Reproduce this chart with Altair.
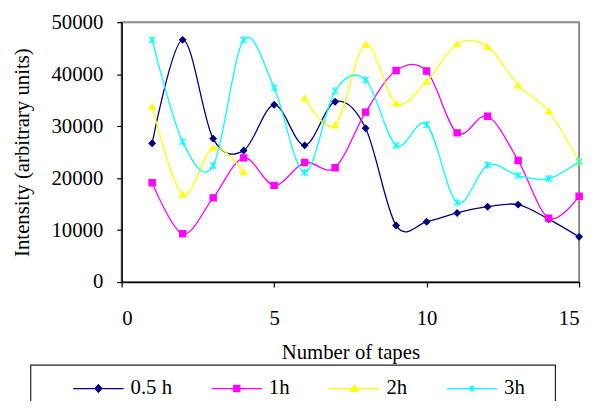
import altair as alt
import pandas as pd

# ---- data ----
series = ["0.5 h", "1h", "2h", "3h"]
tapes = list(range(1, 16))
v_05h = [26700, 46600, 27600, 25300, 34100, 26300, 34700, 29600, 10900, 11600, 13300, 14500, 14900, 12100, 8700]
v_1h = [19100, 9300, 16200, 23900, 18600, 23000, 22000, 32700, 40700, 40600, 28700, 31900, 23400, 12300, 16500]
v_2h = [33800, 16900, 25900, 21200, None, 35400, 30200, 45700, 34400, 38600, 45800, 45300, 37900, 32900, 23200]
v_3h = [46600, 27000, 22400, 46600, 37400, 21100, 36800, 38900, 26300, 30300, 15300, 22500, 20500, 19900, 23200]
x_ticks = [0, 5, 10, 15]
y_ticks = [0, 10000, 20000, 30000, 40000, 50000]

colors = ["#000080", "#FF00FF", "#FFFF00", "#00FFFF"]
marker_shapes = ["diamond", "square", "triangle-up",
                 "M-1,-1L1,1M-1,1L1,-1M0,-1.2L0,1.2"]
legend_shapes = [
    "M-1,0H1M0,-0.15L0.13,0L0,0.15L-0.13,0Z",
    "M-1,0H1M-0.12,-0.12H0.12V0.12H-0.12Z",
    "M-1,0H1M0,-0.14L0.14,0.11H-0.14Z",
    "M-1,0H1M-0.09,-0.09L0.09,0.09M-0.09,0.09L0.09,-0.09M0,-0.11V0.11",
]

rows = []
for name, vals in zip(series, [v_05h, v_1h, v_2h, v_3h]):
    seg = 0
    for t, v in zip(tapes, vals):
        if v is None:
            seg += 1
            continue
        rows.append({"tapes": t, "intensity": v, "series": name, "seg": f"{name}_{seg}"})
df = pd.DataFrame(rows)

FONT = "Liberation Serif"
FS = 21

x_enc = alt.X("tapes:Q", scale=alt.Scale(domain=[0, 15], nice=False),
              axis=alt.Axis(values=x_ticks, title="Number of tapes", labelPadding=21,
                            titlePadding=13, labelFont=FONT, titleFont=FONT))
y_enc = alt.Y("intensity:Q", scale=alt.Scale(domain=[0, 50000], nice=False),
              axis=alt.Axis(values=y_ticks, format="d", title="Intensity (arbitrary units)",
                            labelPadding=14, titlePadding=19, labelFont=FONT, titleFont=FONT))

col_scale = alt.Scale(domain=series, range=colors)

base = alt.Chart(df)

lines = base.mark_line(interpolate="cardinal", strokeWidth=1.3).encode(
    x=x_enc, y=y_enc,
    color=alt.Color("series:N", scale=col_scale, legend=None),
    detail="seg:N",
)

points = base.mark_point(filled=True, size=40, strokeWidth=1.2, opacity=1).encode(
    x=x_enc, y=y_enc,
    fill=alt.Fill("series:N", scale=col_scale, legend=None),
    stroke=alt.Stroke("series:N", scale=col_scale, legend=None),
    shape=alt.Shape("series:N", scale=alt.Scale(domain=series, range=marker_shapes), legend=None),
)

leg_col = alt.Scale(domain=series, range=colors)
legend_layer = base.transform_filter("false").transform_calculate(
    leg="datum.series"
).mark_point(strokeWidth=1.3, opacity=1).encode(
    shape=alt.Shape("leg:N", scale=alt.Scale(domain=series, range=legend_shapes),
                    legend=alt.Legend(orient="none", legendX=-50, legendY=344,
                                      direction="horizontal", title=None,
                                      symbolSize=2601, symbolStrokeWidth=1.3,
                                      labelFont=FONT, labelFontSize=FS, labelColor="black",
                                      labelOffset=6, columnPadding=37, padding=0)),
    fill=alt.Fill("leg:N", scale=leg_col),
    stroke=alt.Stroke("leg:N", scale=leg_col),
)

frame = alt.Chart(pd.DataFrame({"a": [0]})).mark_rect(
    fill="transparent", stroke="#222222", strokeWidth=1.2
).encode(x=alt.value(-92), x2=alt.value(439), y=alt.value(347), y2=alt.value(420))

chart = alt.layer(lines, points, legend_layer, frame).resolve_scale(
    fill="independent", stroke="independent", shape="independent"
).properties(
    width=463, height=263,
    autosize=alt.AutoSizeParams(type="none"),
    padding={"left": 115, "top": 12, "right": 10, "bottom": 118},
).configure_view(
    stroke="#8a8a8a", strokeWidth=2
).configure_axis(
    grid=False, domainColor="black", domainWidth=1.5, tickColor="black", tickSize=5,
    tickWidth=1.2, labelFont=FONT, labelFontSize=FS, labelColor="black",
    titleFont=FONT, titleFontSize=FS, titleFontWeight="normal", titleColor="black",
)

chart.save("out.html", embed_options={"renderer": "svg", "actions": False})
